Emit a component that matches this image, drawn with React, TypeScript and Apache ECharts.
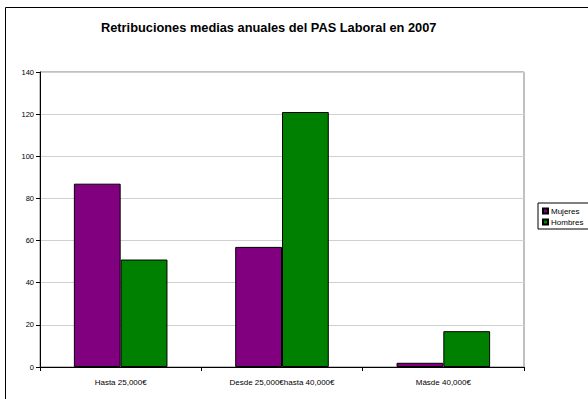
import React, { useEffect, useRef } from "react";
import * as echarts from "echarts";

const categories = ["Hasta 25,000€", "Desde 25,000€hasta 40,000€", "Másde 40,000€"];
const mujeres = [87, 57, 2];
const hombres = [51, 121, 17];
const seriesNames = ["Mujeres", "Hombres"];
const titleText = "Retribuciones medias anuales del PAS Laboral en 2007";

export default function App() {
  const ref = useRef<HTMLDivElement>(null);
  useEffect(() => {
    if (!ref.current) return;
    const chart = echarts.init(ref.current, null, { renderer: "svg" });
    const font = "Liberation Sans, Arial, sans-serif";
    chart.setOption({
      animation: false,
      textStyle: { fontFamily: font },
      title: {
        text: titleText,
        left: 101,
        top: 21,
        padding: 0,
        textStyle: { fontSize: 12.8, fontWeight: "bold", color: "#000", fontFamily: font },
      },
      graphic: [
        {
          type: "rect",
          shape: { x: 5.5, y: 7.5, width: 620, height: 420 },
          style: { fill: "none", stroke: "#000", lineWidth: 1 },
          silent: true,
        },
      ],
      legend: {
        orient: "vertical",
        left: 538,
        top: 203,
        padding: [4, 12, 3, 4],
        itemGap: 3,
        itemWidth: 5,
        itemHeight: 5,
        icon: "rect",
        borderColor: "#000",
        borderWidth: 1,
        textStyle: { fontSize: 8, color: "#000", fontFamily: font, padding: [0, 0, 0, -2] },
        data: seriesNames,
      },
      grid: {
        left: 40,
        top: 72,
        width: 484,
        height: 295,
        show: true,
        borderColor: "#808080",
        borderWidth: 1,
        containLabel: false,
      },
      xAxis: {
        type: "category",
        data: categories,
        axisLine: { lineStyle: { color: "#000", width: 1 } },
        axisTick: { show: true, length: 4, lineStyle: { color: "#000" }, alignWithLabel: false },
        axisLabel: { fontSize: 8, color: "#000", margin: 11, fontFamily: font, interval: 0 },
      },
      yAxis: {
        type: "value",
        min: 0,
        max: 140,
        interval: 20,
        axisLine: { show: true, lineStyle: { color: "#000", width: 1 } },
        axisTick: { show: true, length: 4, lineStyle: { color: "#000" } },
        axisLabel: { fontSize: 7.5, color: "#000", margin: 6, fontFamily: font },
        splitLine: { lineStyle: { color: "#d0d0d0", width: 1 } },
      },
      series: [
        {
          name: seriesNames[0],
          type: "bar",
          data: mujeres,
          barGap: "0%",
          barCategoryGap: "42%",
          itemStyle: { color: "#800080", borderColor: "#000", borderWidth: 1 },
        },
        {
          name: seriesNames[1],
          type: "bar",
          data: hombres,
          barGap: "0%",
          barCategoryGap: "42%",
          itemStyle: { color: "#008000", borderColor: "#000", borderWidth: 1 },
        },
      ],
    });
    return () => chart.dispose();
  }, []);
  return (
    <div
      ref={ref}
      style={{ position: "absolute", left: 0, top: 0, width: 588, height: 399, background: "#fff" }}
    />
  );
}
